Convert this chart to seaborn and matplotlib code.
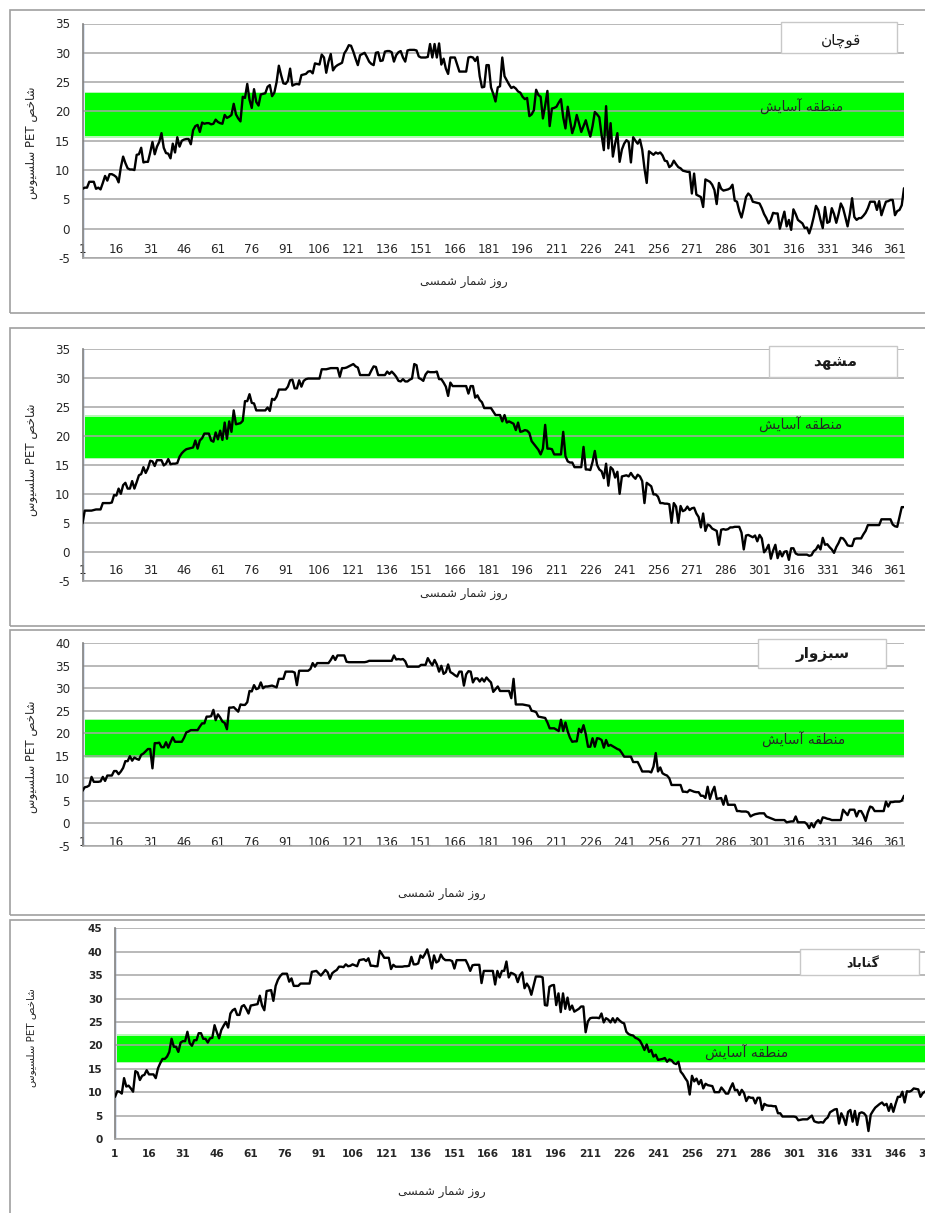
"""
Indice PET diario (grados Celsius) para cuatro estaciones de Jorasan:
Quchan, Mashhad, Sabzevar y Gonabad, con la franja de confort.
"""
import re
import matplotlib
matplotlib.use("Agg")
from matplotlib import pyplot as plt
from matplotlib.patches import Rectangle
import seaborn as sns
import pandas as pd

# Datos: dias del calendario solar y PET diario
days = list(range(1, 366))

quchan = [
    6.8, 7.0, 7.0, 8.0, 8.0, 8.0, 6.8, 7.0, 6.7, 7.8, 9.0, 8.2, 9.3, 9.3, 9.1,
    8.8, 7.9, 10.5, 12.3, 11.2, 10.3, 10.1, 10.1, 10.0, 12.6, 12.7, 13.8, 11.3, 11.4, 11.4,
    13.0, 14.8, 12.7, 14.0, 14.8, 16.3, 13.8, 12.9, 12.8, 12.0, 14.5, 13.0, 15.6, 14.0, 15.0,
    15.2, 15.3, 15.3, 14.4, 16.8, 17.5, 17.7, 16.5, 18.1, 17.9, 18.0, 18.0, 17.8, 17.9, 18.6,
    18.2, 18.0, 17.9, 19.4, 18.9, 19.1, 19.4, 21.3, 19.5, 18.8, 18.3, 22.5, 22.3, 24.7, 22.0,
    20.6, 23.8, 21.6, 21.0, 22.9, 23.0, 23.1, 24.2, 24.5, 22.6, 23.2, 25.0, 27.8, 26.2, 24.8,
    24.7, 25.2, 27.3, 24.4, 24.6, 24.7, 24.6, 26.2, 26.3, 26.4, 26.8, 26.9, 26.5, 28.2, 28.1,
    28.0, 29.7, 29.2, 26.6, 28.5, 29.8, 27.0, 27.6, 27.9, 28.1, 28.3, 29.9, 30.5, 31.3, 31.2,
    30.2, 29.0, 27.9, 29.6, 29.8, 30.0, 29.3, 28.5, 28.1, 27.9, 30.0, 30.1, 28.6, 28.7, 30.2,
    30.3, 30.3, 30.1, 28.5, 29.6, 30.1, 30.3, 29.2, 28.5, 30.4, 30.5, 30.5, 30.5, 30.4, 29.4,
    29.2, 29.2, 29.2, 29.3, 31.5, 29.2, 31.5, 29.2, 31.6, 28.0, 29.0, 27.3, 26.4, 29.2, 29.2,
    29.2, 28.0, 26.8, 26.8, 26.8, 26.8, 29.2, 29.3, 29.2, 28.6, 29.3, 26.0, 24.1, 24.2, 27.9,
    27.9, 24.1, 23.0, 21.7, 24.1, 24.3, 29.2, 26.0, 25.3, 24.6, 24.0, 24.2, 23.9, 23.4, 23.2,
    22.5, 22.1, 22.3, 19.2, 19.5, 20.2, 23.7, 22.8, 22.5, 18.8, 21.0, 23.5, 17.5, 20.5, 20.6,
    20.8, 21.5, 22.1, 19.0, 17.1, 20.8, 18.5, 16.3, 17.5, 19.4, 18.0, 16.5, 17.5, 18.5, 17.0,
    15.7, 17.5, 19.9, 19.5, 19.0, 16.0, 13.4, 20.9, 13.7, 18.0, 12.3, 14.5, 16.3, 11.4, 13.5,
    14.5, 15.1, 14.8, 11.3, 15.6, 15.0, 14.5, 15.2, 13.5, 10.3, 7.8, 13.2, 12.9, 12.6, 13.0,
    12.8, 13.0, 12.5, 11.6, 11.5, 10.5, 10.8, 11.6, 11.0, 10.5, 10.3, 9.9, 9.8, 9.7, 9.7,
    6.0, 9.4, 5.8, 5.6, 5.4, 3.7, 8.4, 8.2, 8.0, 7.5, 6.6, 4.2, 7.8, 6.8, 6.5,
    6.6, 6.7, 6.9, 7.5, 4.8, 4.6, 3.0, 1.9, 3.5, 5.4, 6.0, 5.6, 4.6, 4.5, 4.4,
    4.3, 3.5, 2.5, 1.8, 0.9, 1.5, 2.7, 2.6, 2.6, 0.0, 1.5, 2.9, 0.4, 1.5, -0.2,
    3.3, 2.5, 1.5, 1.2, 0.9, 0.1, 0.2, -0.8, 0.4, 2.0, 3.9, 3.2, 1.5, 0.1, 3.7,
    1.0, 1.2, 3.5, 2.5, 1.0, 2.5, 4.3, 3.5, 2.0, 0.4, 2.5, 5.2, 2.0, 1.5, 1.8,
    1.8, 2.2, 2.7, 3.5, 4.6, 4.6, 4.6, 3.2, 4.7, 2.3, 3.5, 4.6, 4.7, 4.9, 4.9,
    2.3, 3.0, 3.2, 4.0, 6.9,
]

mashhad = [
    4.9, 7.1, 7.1, 7.1, 7.1, 7.2, 7.3, 7.3, 7.3, 8.4, 8.4, 8.4, 8.4, 8.5, 9.8,
    9.7, 10.9, 10.0, 11.5, 11.9, 10.9, 10.9, 12.2, 10.9, 12.0, 13.2, 13.4, 14.6, 13.6, 14.4,
    15.7, 15.6, 14.8, 15.8, 15.8, 15.8, 14.9, 15.2, 16.0, 15.1, 15.2, 15.2, 15.3, 16.4, 17.0,
    17.4, 17.7, 17.8, 17.9, 18.0, 19.2, 17.8, 19.2, 19.6, 20.4, 20.4, 20.4, 19.2, 19.0, 20.6,
    19.4, 20.9, 19.3, 22.3, 19.5, 22.5, 20.7, 24.4, 22.0, 22.1, 22.2, 22.6, 26.0, 26.0, 27.2,
    25.7, 25.6, 24.4, 24.4, 24.4, 24.4, 24.4, 24.9, 24.3, 26.4, 26.2, 26.8, 28.0, 28.0, 28.0,
    28.0, 28.5, 29.6, 29.7, 28.2, 28.2, 29.6, 28.5, 29.5, 29.8, 29.9, 29.9, 29.9, 29.9, 29.9,
    29.9, 31.5, 31.5, 31.5, 31.6, 31.7, 31.7, 31.7, 31.7, 30.2, 31.7, 31.7, 31.8, 32.0, 32.2,
    32.4, 32.0, 31.8, 30.5, 30.5, 30.5, 30.5, 30.5, 31.3, 32.0, 31.9, 30.5, 30.5, 30.5, 30.5,
    31.1, 30.7, 31.1, 30.7, 30.2, 29.5, 29.4, 29.8, 29.4, 29.4, 29.7, 29.9, 32.4, 32.2, 30.0,
    29.8, 29.5, 30.6, 31.1, 31.0, 31.0, 31.0, 31.1, 29.8, 29.8, 29.2, 28.5, 26.9, 29.2, 28.6,
    28.6, 28.6, 28.6, 28.6, 28.6, 28.6, 27.3, 28.6, 28.6, 26.6, 27.0, 26.2, 25.8, 24.8, 24.8,
    24.8, 24.8, 24.2, 23.6, 23.6, 23.6, 22.5, 23.6, 22.3, 22.5, 22.3, 22.1, 21.0, 22.3, 20.7,
    20.8, 21.0, 20.9, 20.5, 19.1, 18.6, 18.1, 17.6, 16.8, 17.8, 21.9, 17.8, 17.8, 17.7, 16.8,
    16.8, 16.8, 16.8, 20.7, 16.5, 15.6, 15.4, 15.4, 14.6, 14.6, 14.6, 14.6, 18.1, 14.2, 14.2,
    14.1, 15.5, 17.4, 15.0, 14.2, 13.9, 12.7, 15.2, 11.4, 14.6, 14.2, 12.8, 13.8, 10.0, 13.0,
    13.1, 13.2, 13.0, 13.6, 13.0, 12.6, 13.3, 13.0, 12.2, 8.4, 11.9, 11.6, 11.3, 9.9, 9.9,
    9.5, 8.4, 8.4, 8.3, 8.3, 8.2, 5.0, 8.4, 7.8, 5.0, 7.9, 7.0, 7.2, 7.8, 7.2,
    7.5, 7.6, 6.6, 6.0, 4.2, 6.6, 3.6, 4.7, 4.5, 4.0, 3.8, 3.6, 1.2, 3.8, 3.9,
    3.8, 3.9, 4.2, 4.2, 4.3, 4.3, 4.3, 3.3, 0.4, 2.8, 2.9, 2.7, 2.5, 2.8, 1.8,
    2.9, 2.3, -0.1, 0.4, 1.2, -1.2, 0.2, 1.2, -1.1, 0.1, -0.8, 0.0, 0.1, -1.4, 0.6,
    0.6, -0.3, -0.5, -0.5, -0.5, -0.5, -0.5, -0.7, -0.6, 0.1, 0.4, 1.1, 0.4, 2.4, 1.2,
    1.3, 0.8, 0.4, -0.2, 0.8, 1.5, 2.4, 2.3, 1.8, 1.1, 1.0, 1.0, 2.2, 2.3, 2.3,
    2.3, 3.0, 3.6, 4.6, 4.6, 4.6, 4.6, 4.6, 4.6, 5.6, 5.6, 5.6, 5.6, 5.6, 4.7,
    4.4, 4.3, 6.0, 7.7, 7.7,
]

sabzevar = [
    7.2, 8.0, 8.1, 8.4, 10.3, 9.2, 9.2, 9.2, 9.3, 10.3, 9.4, 10.6, 10.6, 10.6, 11.6,
    11.6, 10.9, 11.5, 12.3, 13.8, 13.8, 14.9, 13.9, 14.6, 14.3, 14.1, 15.2, 15.5, 16.0, 16.5,
    16.5, 12.2, 17.8, 17.8, 17.9, 16.9, 16.9, 18.0, 16.8, 18.0, 19.1, 18.1, 18.1, 18.1, 18.1,
    19.0, 20.2, 20.4, 20.7, 20.7, 20.7, 20.7, 21.5, 22.2, 22.2, 23.7, 23.7, 23.8, 25.2, 22.9,
    24.2, 23.5, 22.6, 22.3, 20.9, 25.7, 25.7, 25.8, 25.3, 24.8, 26.4, 26.3, 26.3, 26.9, 29.4,
    29.3, 30.7, 29.8, 30.0, 31.3, 30.0, 30.4, 30.4, 30.5, 30.6, 30.4, 30.2, 32.1, 32.1, 32.1,
    33.7, 33.7, 33.7, 33.7, 33.5, 30.7, 33.9, 33.9, 33.9, 33.9, 33.9, 34.3, 35.6, 34.8, 35.6,
    35.6, 35.6, 35.6, 35.6, 35.6, 36.3, 37.2, 36.3, 37.3, 37.3, 37.3, 37.3, 35.9, 35.8, 35.8,
    35.8, 35.8, 35.8, 35.8, 35.8, 35.8, 35.9, 36.1, 36.1, 36.1, 36.1, 36.1, 36.1, 36.1, 36.1,
    36.1, 36.1, 36.1, 37.3, 36.4, 36.5, 36.4, 36.5, 36.0, 34.8, 34.8, 34.8, 34.8, 34.8, 34.8,
    35.2, 35.2, 35.2, 36.7, 35.8, 35.1, 36.3, 35.3, 33.7, 35.0, 33.2, 33.6, 35.3, 33.6, 33.3,
    32.9, 32.6, 33.7, 33.7, 30.6, 33.1, 33.8, 33.7, 31.3, 32.2, 32.2, 31.5, 32.2, 31.5, 32.4,
    31.8, 31.3, 29.2, 29.8, 30.4, 29.4, 29.4, 29.4, 29.4, 29.4, 27.8, 32.1, 26.4, 26.4, 26.4,
    26.4, 26.3, 26.2, 26.1, 25.0, 24.9, 24.7, 23.7, 23.6, 23.5, 23.4, 22.4, 21.1, 21.1, 21.1,
    20.8, 20.5, 23.0, 20.5, 22.4, 20.4, 19.0, 18.1, 18.2, 18.2, 21.0, 20.2, 21.8, 19.8, 17.0,
    17.0, 18.9, 17.0, 18.9, 18.8, 18.5, 16.8, 18.5, 17.2, 17.4, 17.1, 16.8, 16.5, 16.3, 15.6,
    14.8, 14.8, 14.8, 14.8, 13.6, 13.6, 13.6, 12.6, 11.5, 11.5, 11.5, 11.5, 11.3, 12.6, 15.6,
    11.5, 12.4, 11.1, 10.8, 10.6, 10.0, 8.5, 8.5, 8.5, 8.5, 8.5, 7.0, 7.0, 6.9, 7.4,
    7.2, 7.0, 6.9, 6.9, 6.1, 6.1, 5.6, 8.1, 5.4, 7.0, 8.1, 5.4, 5.5, 5.6, 4.1,
    6.1, 4.1, 4.1, 4.1, 4.1, 2.7, 2.7, 2.6, 2.6, 2.6, 2.4, 1.5, 1.8, 2.0, 2.1,
    2.2, 2.2, 2.2, 1.5, 1.3, 1.1, 0.9, 0.7, 0.7, 0.7, 0.7, 0.7, 0.2, 0.3, 0.4,
    0.4, 1.5, 0.2, 0.2, 0.2, 0.2, -0.2, -1.1, 0.0, -0.9, 0.2, 0.7, 0.0, 1.3, 1.2,
    1.0, 0.9, 0.7, 0.7, 0.7, 0.7, 0.7, 3.0, 2.4, 1.8, 3.0, 3.0, 3.0, 1.5, 2.7,
    2.7, 1.8, 0.5, 2.4, 3.7, 3.5, 2.7, 2.7, 2.7, 2.7, 2.7, 4.8, 3.7, 4.7, 4.7,
    4.8, 4.8, 4.8, 5.0, 6.1,
]

gonabad = [
    9.0, 10.2, 10.1, 9.7, 13.0, 11.2, 11.4, 10.8, 10.1, 14.5, 14.2, 12.6, 13.5, 13.7, 14.7,
    13.8, 13.8, 13.8, 13.0, 15.1, 16.2, 17.1, 17.1, 17.6, 18.6, 21.4, 19.7, 19.7, 18.6, 20.6,
    20.9, 20.9, 22.9, 20.5, 19.9, 21.1, 21.1, 22.6, 22.6, 21.4, 21.4, 20.6, 21.5, 21.6, 24.3,
    22.8, 21.5, 23.3, 24.2, 25.0, 23.8, 26.8, 27.5, 27.8, 26.5, 26.5, 28.3, 28.6, 27.8, 26.8,
    28.5, 28.6, 28.7, 28.8, 30.6, 28.5, 27.5, 31.6, 31.7, 31.8, 29.5, 32.7, 34.0, 34.8, 35.3,
    35.3, 35.3, 33.6, 34.3, 32.7, 32.7, 32.7, 33.2, 33.2, 33.2, 33.2, 33.2, 35.7, 35.8, 35.9,
    35.4, 34.9, 35.5, 36.1, 35.6, 34.2, 35.4, 35.8, 36.1, 36.8, 36.8, 36.7, 37.3, 36.9, 37.0,
    37.3, 37.1, 36.9, 38.2, 38.3, 38.4, 38.0, 38.6, 37.0, 37.0, 36.9, 36.9, 40.2, 39.5, 38.7,
    38.7, 38.7, 36.3, 37.2, 36.8, 36.8, 36.8, 36.8, 36.9, 36.9, 37.0, 38.9, 37.3, 37.3, 37.5,
    39.2, 38.7, 39.5, 40.5, 38.7, 36.4, 39.2, 37.7, 38.0, 39.4, 38.6, 38.2, 38.2, 38.2, 38.0,
    36.4, 38.2, 38.2, 38.2, 38.2, 38.2, 37.2, 35.9, 37.1, 37.2, 37.2, 37.2, 33.3, 35.9, 35.9,
    35.9, 35.9, 35.9, 33.0, 35.9, 34.5, 35.9, 35.9, 37.9, 34.5, 35.5, 35.3, 35.0, 33.5, 35.0,
    35.6, 32.2, 33.2, 32.4, 30.8, 32.8, 34.7, 34.7, 34.7, 34.5, 28.6, 28.5, 32.5, 32.8, 32.9,
    28.6, 31.1, 27.1, 31.1, 27.8, 30.2, 27.6, 28.5, 27.2, 27.5, 27.8, 28.3, 28.3, 22.8, 25.1,
    25.8, 25.9, 25.9, 25.9, 25.8, 26.8, 24.9, 25.8, 25.5, 24.9, 25.8, 24.9, 25.8, 25.3, 24.9,
    24.7, 22.9, 22.4, 22.2, 22.1, 21.6, 21.4, 21.0, 20.1, 19.0, 20.2, 18.6, 19.0, 17.6, 18.0,
    16.9, 17.0, 17.1, 17.3, 16.5, 17.0, 16.8, 16.2, 16.0, 16.5, 14.4, 13.8, 13.0, 12.3, 9.5,
    13.5, 12.3, 12.9, 11.7, 12.6, 10.8, 11.8, 11.5, 11.4, 11.3, 10.0, 10.0, 10.0, 11.0, 10.4,
    9.7, 9.7, 10.9, 11.9, 10.4, 10.5, 9.4, 10.5, 9.8, 8.1, 9.0, 8.8, 8.8, 7.6, 8.8,
    8.8, 6.2, 7.5, 7.2, 7.1, 7.1, 7.0, 7.0, 5.5, 5.5, 4.8, 4.8, 4.8, 4.8, 4.8,
    4.8, 4.7, 4.0, 4.1, 4.2, 4.2, 4.2, 4.6, 5.0, 3.8, 3.6, 3.5, 3.6, 3.5, 4.2,
    4.6, 5.7, 6.0, 6.3, 6.4, 3.3, 5.5, 4.5, 3.0, 5.8, 6.2, 3.7, 6.0, 3.0, 5.5,
    5.7, 5.5, 4.9, 1.7, 5.2, 6.0, 6.7, 7.1, 7.5, 7.8, 7.2, 7.5, 6.0, 7.5, 5.8,
    7.5, 9.0, 9.0, 10.1, 7.8, 10.2, 10.1, 10.3, 10.8, 10.7, 10.6, 9.0, 9.8, 10.1, 10.5,
    10.6, 10.9, 11.0, 10.8, 11.2,
]

station_names = ["قوچان", "مشهد", "سبزوار", "گناباد"]
comfort_low = [15.8, 16.2, 14.8, 16.4]
comfort_high = [23.1, 23.3, 23.0, 22.1]
y_lims = [(-5, 35), (-5, 35), (-5, 40), (0, 45)]
x_ticks = list(range(1, 366, 15))

y_label = "شاخص PET سلسیوس"
x_label = "روز شمار شمسی"
comfort_label = "منطقه آسایش"

# Formas de presentacion (aislada, final, inicial, media) para el persa
FORMS = {
    "ا": ("\uFE8D", "\uFE8E", None, None),
    "آ": ("\uFE81", "\uFE82", None, None),
    "ب": ("\uFE8F", "\uFE90", "\uFE91", "\uFE92"),
    "خ": ("\uFEA5", "\uFEA6", "\uFEA7", "\uFEA8"),
    "د": ("\uFEA9", "\uFEAA", None, None),
    "ر": ("\uFEAD", "\uFEAE", None, None),
    "ز": ("\uFEAF", "\uFEB0", None, None),
    "س": ("\uFEB1", "\uFEB2", "\uFEB3", "\uFEB4"),
    "ش": ("\uFEB5", "\uFEB6", "\uFEB7", "\uFEB8"),
    "ص": ("\uFEB9", "\uFEBA", "\uFEBB", "\uFEBC"),
    "ط": ("\uFEC1", "\uFEC2", "\uFEC3", "\uFEC4"),
    "ق": ("\uFED5", "\uFED6", "\uFED7", "\uFED8"),
    "ل": ("\uFEDD", "\uFEDE", "\uFEDF", "\uFEE0"),
    "م": ("\uFEE1", "\uFEE2", "\uFEE3", "\uFEE4"),
    "ن": ("\uFEE5", "\uFEE6", "\uFEE7", "\uFEE8"),
    "ه": ("\uFEE9", "\uFEEA", "\uFEEB", "\uFEEC"),
    "و": ("\uFEED", "\uFEEE", None, None),
    "چ": ("\uFB7A", "\uFB7B", "\uFB7C", "\uFB7D"),
    "گ": ("\uFB92", "\uFB93", "\uFB94", "\uFB95"),
    "ی": ("\uFBFC", "\uFBFD", "\uFBFE", "\uFBFF"),
}


def fa(text):
    """Une las letras y las pone en orden visual (derecha a izquierda)."""
    out = []
    for i, ch in enumerate(text):
        if ch not in FORMS:
            out.append(ch)
            continue
        prev = text[i - 1] if i > 0 else ""
        nxt = text[i + 1] if i + 1 < len(text) else ""
        iso, fin, ini, med = FORMS[ch]
        join_prev = prev in FORMS and FORMS[prev][2] is not None
        join_next = ini is not None and nxt in FORMS
        if join_prev and join_next:
            out.append(med)
        elif join_prev:
            out.append(fin)
        elif join_next:
            out.append(ini)
        else:
            out.append(iso)
    s = "".join(out)[::-1]
    return re.sub(r"[A-Za-z0-9]+", lambda m: m.group(0)[::-1], s)


sns.set_style("white")
plt.rcParams["font.family"] = ["DejaVu Sans"]
plt.rcParams["axes.unicode_minus"] = False

W, H = 925, 1213
fig = plt.figure(figsize=(W / 100, H / 100), dpi=100)


def fx(x):
    return x / W


def fy(y):
    return 1 - y / H


# Posiciones en pixeles (izq, arriba, der, abajo)
frames = [(9.5, 10, 940, 312.5), (9.5, 328, 940, 626),
          (9.5, 630, 940, 915), (9.5, 920, 940, 1230)]
plot_boxes = [(82.5, 23.5, 904, 258), (82.5, 349, 904, 580.7),
              (82.5, 643.3, 904, 845.7), (115, 928.3, 938.6, 1139)]
title_boxes = [(781, 22, 897, 53), (769, 346, 897, 377),
               (758, 639, 886, 668), (800, 949, 919, 975)]
title_pos = [(841, 40), (835, 362), (823, 655), (863, 963)]
comfort_pos = [(802, 107), (801, 425), (804, 740), (747, 1053)]
ylabel_pos = [(32, 143), (32, 460), (32, 757), (31, 1038)]
xlabel_pos = [(464, 281), (464, 594), (442, 893), (442, 1192)]
xtick_pad = [-11, -12, -7, 7]

series = [quchan, mashhad, sabzevar, gonabad]

for k in range(4):
    small = k == 3
    weight = "bold" if small else "normal"

    # marco del grafico
    l, t, r, b = frames[k]
    fig.add_artist(Rectangle((fx(l), fy(b)), fx(r - l), (b - t) / H,
                             transform=fig.transFigure, fill=False,
                             ec="#a0a0a0", lw=1.2))

    l, t, r, b = plot_boxes[k]
    ax = fig.add_axes([fx(l), fy(b), fx(r - l), (b - t) / H])
    df = pd.DataFrame({"day": days, "pet": series[k]})

    ax.axhspan(comfort_low[k] - 0.25, comfort_high[k] + 0.25, xmin=0.003,
               color="#b6f7b6", lw=0, zorder=0.5)
    ax.axhspan(comfort_low[k], comfort_high[k], xmin=0.003,
               color="#00ff00", lw=0, zorder=0.6)
    ax.axvspan(1, 1.9, color="#dce4f0", lw=0, zorder=0.7)

    sns.lineplot(data=df, x="day", y="pet", ax=ax, color="black",
                 lw=1.7, zorder=3)

    ymin, ymax = y_lims[k]
    ax.set_xlim(1, 365)
    ax.set_ylim(ymin, ymax)
    ax.set_yticks(range(ymin, ymax + 1, 5))
    ax.set_xticks(x_ticks)
    ax.set_axisbelow("line")
    ax.grid(axis="y", color="#a6a6a6", lw=1.1)
    ax.grid(axis="x", visible=False)
    ax.set_xlabel("")
    ax.set_ylabel("")

    for side in ["top", "right"]:
        ax.spines[side].set_visible(False)
    ax.spines["left"].set_color("#808080")
    ax.spines["left"].set_linewidth(1.2)
    ax.spines["bottom"].set_color("#a6a6a6")
    ax.spines["bottom"].set_linewidth(1.1)

    fs = 7.6 if small else 8.6
    ax.tick_params(axis="y", length=0, pad=9, labelsize=fs, labelcolor="#262626")
    ax.tick_params(axis="x", length=0, pad=xtick_pad[k], labelsize=fs,
                   labelcolor="#262626")
    for lab in ax.get_xticklabels() + ax.get_yticklabels():
        lab.set_fontweight(weight)

    # recuadro con el nombre de la estacion
    l, t, r, b = title_boxes[k]
    fig.add_artist(Rectangle((fx(l), fy(b)), fx(r - l), (b - t) / H,
                             transform=fig.transFigure, fc="white",
                             ec="#c8c8c8", lw=1.0, zorder=5))
    fig.text(fx(title_pos[k][0]), fy(title_pos[k][1]), fa(station_names[k]),
             ha="center", va="center", fontsize=9 if small else 11,
             fontweight="normal" if k == 0 else "bold", color="#1a1a1a",
             zorder=6)

    fig.text(fx(comfort_pos[k][0]), fy(comfort_pos[k][1]), fa(comfort_label),
             ha="center", va="center", fontsize=10, color="#262626", zorder=6)
    fig.text(fx(ylabel_pos[k][0]), fy(ylabel_pos[k][1]), fa(y_label),
             ha="center", va="center", rotation=90,
             fontsize=7.5 if small else 8.5, color="#262626")
    fig.text(fx(xlabel_pos[k][0]), fy(xlabel_pos[k][1]), fa(x_label),
             ha="center", va="center", fontsize=8.5, color="#262626")

fig.savefig("out.png", dpi=100)
